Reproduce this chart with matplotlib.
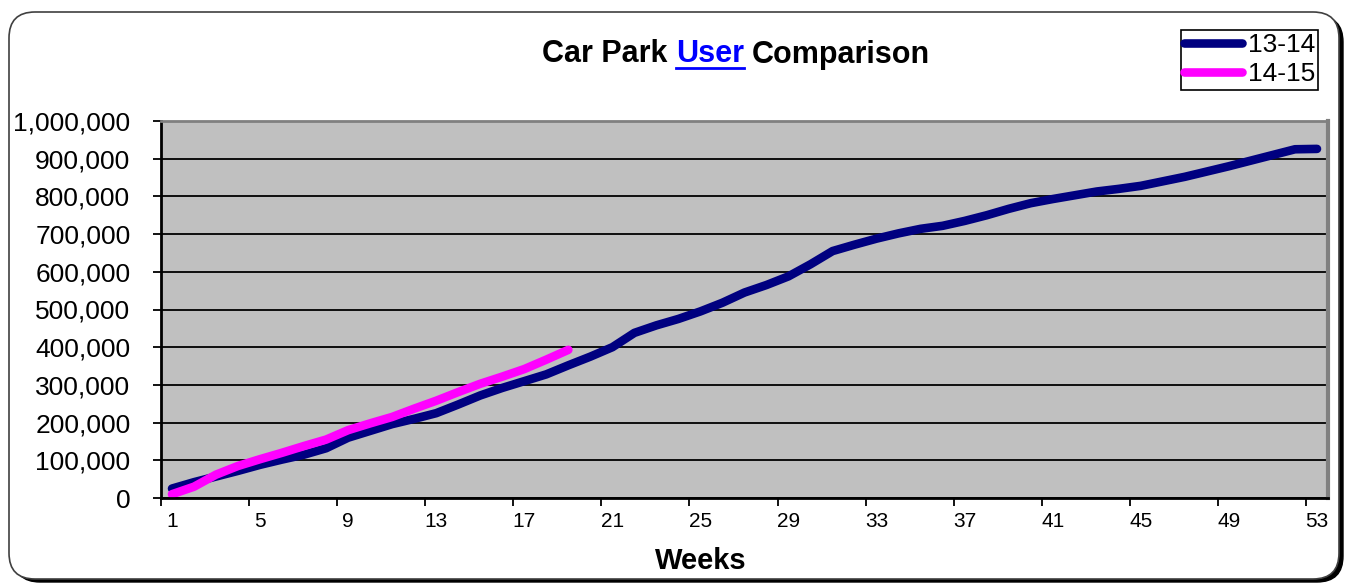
import matplotlib
matplotlib.use("Agg")
import matplotlib.pyplot as plt
from matplotlib.patches import FancyBboxPatch
from matplotlib.lines import Line2D
from matplotlib.transforms import IdentityTransform
from matplotlib.ticker import FuncFormatter, FixedLocator

# ---- data ----
weeks_1314 = list(range(1, 54))
users_1314 = [25000, 42000, 57000, 72000, 88000, 102000, 115000, 132000, 160000, 178000,
              196000, 210000, 225000, 248000, 272000, 292000, 310000, 328000, 352000, 375000,
              400000, 438000, 458000, 475000, 495000, 518000, 545000, 565000, 588000, 620000,
              655000, 672000, 688000, 702000, 714000, 722000, 735000, 750000, 767000, 782000,
              793000, 803000, 813000, 820000, 828000, 840000, 852000, 866000, 880000, 895000,
              910000, 925000, 926000]
weeks_1415 = list(range(1, 20))
users_1415 = [10000, 30000, 62000, 85000, 103000, 120000, 138000, 155000, 180000, 198000,
              215000, 237000, 258000, 281000, 303000, 322000, 342000, 367000, 393000]
series_labels = ["13-14", "14-15"]
x_tick_labels = list(range(1, 54, 4))
y_ticks = list(range(0, 1000001, 100000))

W, H = 1345, 584
plt.rcParams['font.family'] = ['Liberation Sans', 'DejaVu Sans']
fig = plt.figure(figsize=(W / 100, H / 100), dpi=100)
fig.patch.set_facecolor('white')

# ---- outer rounded frame with shadow ----
shadow = FancyBboxPatch((14, 2), 1329, 566, boxstyle="round,pad=0,rounding_size=26",
                        transform=IdentityTransform(), facecolor='black', edgecolor='black',
                        lw=1, zorder=-3)
frame = FancyBboxPatch((9, 5), 1330, 567, boxstyle="round,pad=0,rounding_size=26",
                       transform=IdentityTransform(), facecolor='white', edgecolor='#404040',
                       lw=1.2, zorder=-2)
fig.patches.extend([shadow, frame])

# ---- axes ----
ax = fig.add_axes([161 / W, (H - 498) / H, (1328 - 161) / W, (498 - 121) / H])
ax.set_zorder(1)
ax.set_facecolor('#C0C0C0')
ax.set_xlim(0.5, 53.5)
ax.set_ylim(0, 1000000)

ax.set_yticks(y_ticks)
ax.yaxis.set_major_formatter(FuncFormatter(lambda v, p: f"{v:,.0f}"))
ax.tick_params(axis='y', direction='out', length=6, width=1.3, pad=16,
               labelsize=19, colors='black')
ax.yaxis.grid(True, color='black', lw=1.3)
ax.set_axisbelow(True)

ax.xaxis.set_major_locator(FixedLocator(x_tick_labels))
ax.set_xticklabels([str(v) for v in x_tick_labels])
ax.xaxis.set_minor_locator(FixedLocator([0.5 + 4 * k for k in range(14)]))
ax.tick_params(axis='x', which='major', length=0, pad=10, labelsize=15)
ax.tick_params(axis='x', which='minor', direction='out', length=6, width=1.3)

for s in ['left', 'bottom']:
    ax.spines[s].set_color('black')
    ax.spines[s].set_linewidth(2)
ax.spines['top'].set_color('#808080')
ax.spines['top'].set_linewidth(2)
ax.spines['right'].set_color('#808080')
ax.spines['right'].set_linewidth(3)

l1, = ax.plot(weeks_1314, users_1314, color='#000080', lw=6.2,
              solid_capstyle='round', solid_joinstyle='round', label=series_labels[0])
l2, = ax.plot(weeks_1415, users_1415, color='#FF00FF', lw=6.2,
              solid_capstyle='round', solid_joinstyle='round', label=series_labels[1])

# ---- legend ----
leg = fig.legend(handles=[l1, l2], labels=series_labels, loc='upper right',
                 bbox_to_anchor=(1318 / W, 1 - 30 / H), bbox_transform=fig.transFigure,
                 fancybox=False, edgecolor='black', framealpha=1, fontsize=19,
                 handlelength=2.2, handletextpad=0.2, labelspacing=0.2,
                 borderpad=0.12, borderaxespad=0)
leg.get_frame().set_linewidth(1.2)
leg.set_zorder(5)

# ---- axis title ----
fig.text(701 / W, 1 - 561 / H, "Weeks", ha='center', va='center',
         fontsize=21, fontweight='bold')

# ---- chart title with blue underlined "User" ----
r = fig.canvas.get_renderer()
tsize = 22
def width_of(s):
    t = fig.text(0, 0, s, fontsize=tsize, fontweight='bold')
    w = t.get_window_extent(r).width
    t.remove()
    return w

w_space = width_of("a a") - width_of("aa")
w_a = width_of("Car Park")
w_u = width_of("User")
w_c = width_of("Comparison")
total = w_a + w_space + w_u + w_space + w_c
x0 = 736 - total / 2
base_y = H - 62.5
xu = x0 + w_a + w_space
xc = xu + w_u + w_space
fig.text(x0 / W, base_y / H, "Car Park", fontsize=tsize, fontweight='bold',
         ha='left', va='baseline', color='black')
fig.text(xu / W, base_y / H, "User", fontsize=tsize, fontweight='bold',
         ha='left', va='baseline', color='#0000FF')
fig.text(xc / W, base_y / H, "Comparison", fontsize=tsize, fontweight='bold',
         ha='left', va='baseline', color='black')
fig.lines.append(Line2D([xu / W, (xu + w_u) / W], [(H - 68) / H, (H - 68) / H],
                        transform=fig.transFigure, color='#0000FF', lw=2))

fig.savefig("out.png", dpi=100, facecolor='white')
